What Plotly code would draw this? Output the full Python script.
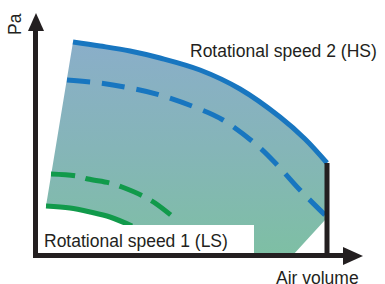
import plotly.graph_objects as go

# Curve data (chart coordinates: x = air volume, y = pressure, both in drawing units)
hs_x = [73, 100, 130, 160, 200, 240, 280, 305, 327]
hs_y = [42, 46, 51, 58, 70, 89, 117, 139, 163]

hs_dash_x = [67, 100, 130, 160, 197, 223, 259, 280, 300, 325]
hs_dash_y = [80, 83, 88, 95, 108, 120, 147, 168, 190, 215]

ls_dash_x = [51, 77, 88, 110, 122, 143, 155, 177]
ls_dash_y = [174, 176, 179, 183, 187, 196, 203, 220]

ls_x = [46, 70, 90, 110, 132]
ls_y = [206, 208, 212, 217, 226]

# Operating region boundary pieces
max_flow_x = [327, 325, 293, 132]
max_flow_y = [163, 220, 255, 255]

labels = {
    "hs": "Rotational speed 2 (HS)",
    "ls": "Rotational speed 1 (LS)",
    "x": "Air volume",
    "y": "Pa",
}

BLUE = "#1876c0"
GREEN = "#119a4b"
BLACK = "#231f20"
FONT = "Liberation Sans, Arial, sans-serif"

fig = go.Figure()

# Gradient-filled operating region
reg_x = hs_x + max_flow_x + ls_x[::-1] + [hs_x[0]]
reg_y = hs_y + max_flow_y + ls_y[::-1] + [hs_y[0]]
fig.add_trace(go.Scatter(
    x=reg_x, y=reg_y, mode="none", fill="toself",
    fillgradient=dict(type="vertical",
                      colorscale=[[0, "#7ebfa4"], [0.5, "#85b5b8"], [1, "#8aaec9"]],
                      start=255, stop=42),
    hoverinfo="skip", showlegend=False))

# Curves
fig.add_trace(go.Scatter(x=hs_x, y=hs_y, mode="lines", line=dict(color=BLUE, width=5, shape="spline"), showlegend=False))
fig.add_trace(go.Scatter(x=hs_dash_x, y=hs_dash_y, mode="lines", line=dict(color=BLUE, width=5, dash="23px,12px", shape="spline"), showlegend=False))
fig.add_trace(go.Scatter(x=ls_dash_x, y=ls_dash_y, mode="lines", line=dict(color=GREEN, width=5, dash="24px,11px", shape="spline"), showlegend=False))
fig.add_trace(go.Scatter(x=ls_x, y=ls_y, mode="lines", line=dict(color=GREEN, width=5, shape="spline"), showlegend=False))

# Max flow vertical line
fig.add_trace(go.Scatter(x=[327, 327], y=[163, 256], mode="lines", line=dict(color=BLACK, width=5), showlegend=False))

# Axes with arrowheads
fig.add_trace(go.Scatter(x=[35.5, 35.5, 345], y=[30, 255.5, 255.5], mode="lines", line=dict(color=BLACK, width=5), showlegend=False))
fig.add_trace(go.Scatter(x=[28, 44, 36, 28], y=[31, 31, 13, 31], mode="none", fill="toself", fillcolor=BLACK, showlegend=False))
fig.add_trace(go.Scatter(x=[343, 343, 363, 343], y=[247, 265, 256, 247], mode="none", fill="toself", fillcolor=BLACK, showlegend=False))

# White label box
fig.add_shape(type="rect", x0=40, x1=254, y0=225, y1=253, fillcolor="white", line=dict(width=0), layer="above")

fig.add_annotation(x=188, y=51, text=labels["hs"], showarrow=False, xanchor="left", yanchor="middle",
                   font=dict(family=FONT, size=17.5, color=BLACK))
fig.add_annotation(x=42, y=241, text=labels["ls"], showarrow=False, xanchor="left", yanchor="middle",
                   font=dict(family=FONT, size=17.5, color=BLACK))
fig.add_annotation(x=317, y=278, text=labels["x"], showarrow=False, xanchor="center", yanchor="middle",
                   font=dict(family=FONT, size=17.5, color=BLACK))
fig.add_annotation(x=15, y=24, text=labels["y"], showarrow=False, textangle=-90, xanchor="center", yanchor="middle",
                   font=dict(family=FONT, size=17.5, color=BLACK))

fig.update_layout(
    width=385, height=284, margin=dict(l=0, r=0, t=0, b=0),
    paper_bgcolor="white", plot_bgcolor="white",
    xaxis=dict(range=[0, 385], visible=False, fixedrange=True),
    yaxis=dict(range=[284, 0], visible=False, fixedrange=True),
    showlegend=False,
)

fig.write_html("out.html", config={"displayModeBar": False},
               post_script="document.body.style.margin='0';document.body.style.overflow='hidden';")
